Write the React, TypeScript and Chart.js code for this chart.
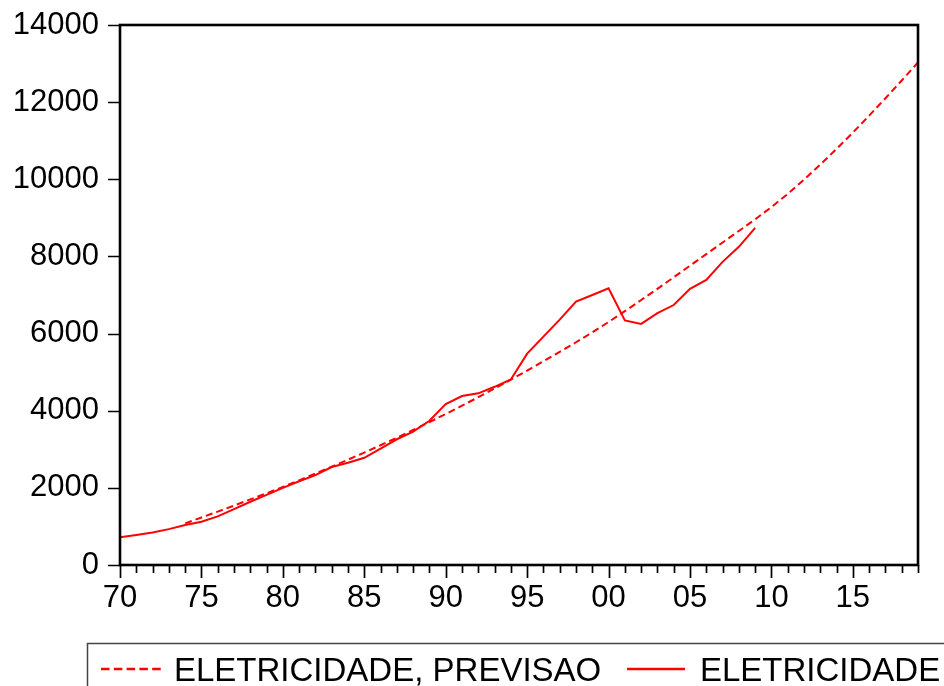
import React, { useEffect, useRef } from "react";
import { Chart, registerables } from "chart.js";

Chart.register(...registerables);

// Years on the axis (every year gets a minor tick)
const axisYears = Array.from({ length: 50 }, (_, i) => 1970 + i);
const majorYears = [1970, 1975, 1980, 1985, 1990, 1995, 2000, 2005, 2010, 2015];
const majorLabels = ["70", "75", "80", "85", "90", "95", "00", "05", "10", "15"];
const yTicks = [0, 2000, 4000, 6000, 8000, 10000, 12000, 14000];

// ELETRICIDADE (observed), 1970-2009
const actualYears = Array.from({ length: 40 }, (_, i) => 1970 + i);
const actualValues = [
  720, 780, 845, 930, 1035, 1120, 1260, 1450, 1640, 1820,
  2000, 2170, 2330, 2540, 2650, 2780, 3020, 3260, 3460, 3740,
  4170, 4380, 4450, 4620, 4810, 5480, 5920, 6360, 6830, 7000,
  7175, 6340, 6250, 6530, 6740, 7160, 7390, 7860, 8250, 8740,
];

// ELETRICIDADE, PREVISAO (forecast), 1974-2019
const forecastYears = Array.from({ length: 46 }, (_, i) => 1974 + i);
const forecastValues = [
  1080, 1230, 1385, 1540, 1700, 1860,
  2025, 2195, 2370, 2550, 2730, 2915, 3105, 3300, 3500, 3705,
  3915, 4130, 4350, 4575, 4805, 5040, 5280, 5525, 5775, 6030,
  6300, 6580, 6870, 7160, 7460, 7760, 8060, 8360, 8660, 8960,
  9280, 9620, 9990, 10380, 10790, 11210, 11650, 12100, 12560, 13030,
];

const seriesLabels = ["ELETRICIDADE, PREVISAO", "ELETRICIDADE"];
const RED = "rgb(255,0,0)";
const FONT = "'Liberation Sans', Arial, Helvetica, sans-serif";

const framePlugin = {
  id: "frame",
  afterDraw(chart: any) {
    const { ctx, chartArea: a, scales } = chart;
    const xs = scales.x;
    const ys = scales.y;
    ctx.save();
    ctx.strokeStyle = "#000";
    ctx.lineWidth = 1.7;
    ctx.beginPath();
    for (const yr of axisYears) {
      const px = Math.round(xs.getPixelForValue(yr)) + 0.5;
      const len = majorYears.includes(yr) ? 13 : 8;
      ctx.moveTo(px, a.bottom);
      ctx.lineTo(px, a.bottom + len);
    }
    for (const v of yTicks) {
      const py = Math.round(ys.getPixelForValue(v)) + 0.5;
      ctx.moveTo(a.left, py);
      ctx.lineTo(a.left - 12, py);
    }
    ctx.stroke();
    ctx.lineWidth = 2.6;
    ctx.strokeRect(a.left, a.top, a.right - a.left, a.bottom - a.top);
    ctx.restore();
  },
};

const legendPlugin = {
  id: "bottomLegend",
  afterDraw(chart: any) {
    const { ctx } = chart;
    ctx.save();
    ctx.strokeStyle = "#444";
    ctx.lineWidth = 1.5;
    ctx.strokeRect(87.5, 643.5, 1000, 100);
    const cy = 669;
    ctx.strokeStyle = RED;
    ctx.lineWidth = 2.4;
    ctx.setLineDash([8.5, 4.3]);
    ctx.beginPath();
    ctx.moveTo(101, cy);
    ctx.lineTo(161, cy);
    ctx.stroke();
    ctx.setLineDash([]);
    ctx.beginPath();
    ctx.moveTo(627, cy);
    ctx.lineTo(685, cy);
    ctx.stroke();
    ctx.fillStyle = "#000";
    ctx.font = `33px ${FONT}`;
    ctx.textBaseline = "alphabetic";
    ctx.textAlign = "left";
    ctx.fillText(chart.data.datasets[0].label, 174, 681);
    ctx.fillText(chart.data.datasets[1].label, 700, 681);
    ctx.restore();
  },
};

export default function App() {
  const ref = useRef<HTMLCanvasElement | null>(null);

  useEffect(() => {
    if (!ref.current) return;
    const chart = new Chart(ref.current, {
      type: "line",
      data: {
        datasets: [
          {
            label: seriesLabels[0],
            data: forecastYears.map((yr, i) => ({ x: yr, y: forecastValues[i] })),
            borderColor: RED,
            borderWidth: 2,
            borderDash: [7, 4],
            pointRadius: 0,
            tension: 0,
            fill: false,
          },
          {
            label: seriesLabels[1],
            data: actualYears.map((yr, i) => ({ x: yr, y: actualValues[i] })),
            borderColor: RED,
            borderWidth: 2,
            pointRadius: 0,
            tension: 0,
            fill: false,
          },
        ],
      },
      options: {
        responsive: false,
        animation: false,
        layout: { padding: { left: 0, top: 25, right: 26, bottom: 0 } },
        plugins: {
          legend: { display: false },
          tooltip: { enabled: false },
        },
        scales: {
          x: {
            type: "linear",
            min: 1970,
            max: 2019,
            grid: { display: false, drawTicks: false },
            border: { display: false },
            afterBuildTicks: (scale: any) => {
              scale.ticks = majorYears.map((v) => ({ value: v }));
            },
            afterFit: (scale: any) => {
              scale.height = 121;
              scale.paddingLeft = 0;
              scale.paddingRight = 0;
            },
            ticks: {
              autoSkip: false,
              maxRotation: 0,
              padding: 15,
              color: "#000",
              font: { family: FONT, size: 31 },
              callback: (v: any) => {
                const idx = majorYears.indexOf(Number(v));
                return idx >= 0 ? majorLabels[idx] : "";
              },
            },
          },
          y: {
            type: "linear",
            min: 0,
            max: 14000,
            grid: { display: false, drawTicks: false },
            border: { display: false },
            afterBuildTicks: (scale: any) => {
              scale.ticks = yTicks.map((v) => ({ value: v }));
            },
            afterFit: (scale: any) => {
              scale.width = 120;
              scale.paddingTop = 0;
              scale.paddingBottom = 0;
            },
            ticks: {
              padding: 21,
              color: "#000",
              font: { family: FONT, size: 31 },
              callback: (v: any) => String(v),
            },
          },
        },
      },
      plugins: [framePlugin, legendPlugin],
    });
    return () => chart.destroy();
  }, []);

  return (
    <div style={{ position: "absolute", left: 0, top: 0, width: 944, height: 686, background: "#fff" }}>
      <canvas ref={ref} width={944} height={686} style={{ display: "block" }} />
    </div>
  );
}
